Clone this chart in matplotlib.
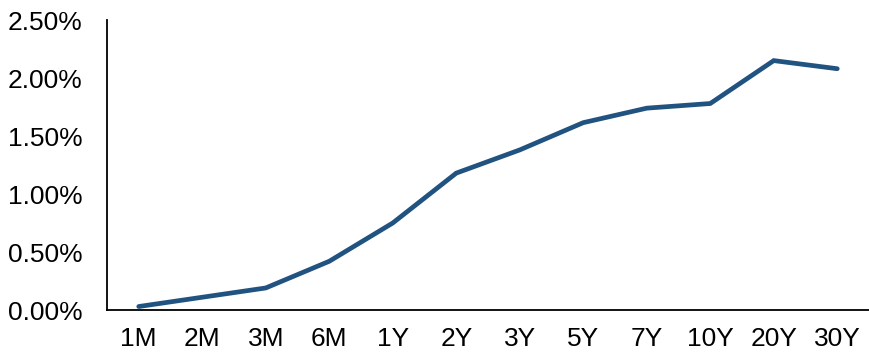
import matplotlib
matplotlib.use("Agg")
import matplotlib.pyplot as plt
from matplotlib.ticker import FuncFormatter

tenors = ["1M", "2M", "3M", "6M", "1Y", "2Y", "3Y", "5Y", "7Y", "10Y", "20Y", "30Y"]
yields_pct = [0.03, 0.11, 0.19, 0.42, 0.75, 1.18, 1.38, 1.615, 1.74, 1.78, 2.15, 2.08]
y_ticks = [0.0, 0.5, 1.0, 1.5, 2.0, 2.5]

plt.rcParams["font.family"] = ["Liberation Sans", "DejaVu Sans"]

fig = plt.figure(figsize=(8.69, 3.54), dpi=100)
ax = fig.add_axes([107 / 869, 44 / 354, 762 / 869, 290 / 354])

x = range(len(tenors))
ax.plot(x, yields_pct, color="#215381", linewidth=3.4, solid_capstyle="round",
        solid_joinstyle="miter")

ax.set_xlim(-0.5, len(tenors) - 0.5)
ax.set_ylim(0, 2.5)
ax.set_xticks(list(x))
ax.set_xticklabels(tenors)
ax.set_yticks(y_ticks)
ax.yaxis.set_major_formatter(FuncFormatter(lambda v, _: f"{v:.2f}%"))

for side in ("top", "right"):
    ax.spines[side].set_visible(False)
for side in ("left", "bottom"):
    ax.spines[side].set_linewidth(1.3)
    ax.spines[side].set_color("black")

ax.tick_params(axis="both", length=0, labelsize=19, colors="black")
ax.tick_params(axis="y", pad=17.5)
ax.tick_params(axis="x", pad=12.5)

fig.savefig("out.png", dpi=100)
